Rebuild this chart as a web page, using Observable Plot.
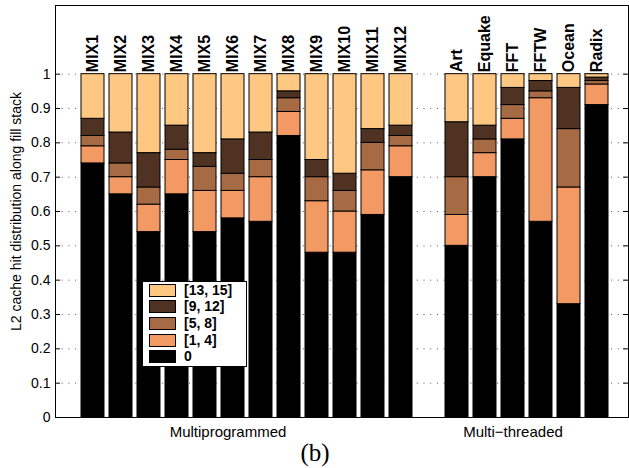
<!DOCTYPE html>
<html><head><meta charset="utf-8">
<script src="https://cdn.jsdelivr.net/npm/d3@7"></script>
<script src="https://cdn.jsdelivr.net/npm/@observablehq/plot@0.6"></script>
<style>
body{margin:0;background:#fff;}
#wrap{position:relative;width:629px;height:468px;font-family:"Liberation Sans",Arial,Helvetica,sans-serif;}
#legend{position:absolute;left:141.5px;top:280.5px;width:103px;height:84px;border:1px solid #000;background:#fff;box-sizing:content-box;}
.sw{position:absolute;left:6.5px;width:25px;height:11px;border:1px solid #000;}
.lb{position:absolute;left:41.5px;font-weight:bold;font-size:14px;line-height:14px;color:#000;white-space:nowrap;}
</style>
</head><body>
<div id="wrap"></div>
<script>
const names = ["MIX1","MIX2","MIX3","MIX4","MIX5","MIX6","MIX7","MIX8","MIX9","MIX10","MIX11","MIX12","Art","Equake","FFT","FFTW","Ocean","Radix"];
const gapName = " ";
const categories = ["0","[1, 4]","[5, 8]","[9, 12]","[13, 15]"];
const colors = ["#000000","#F39A64","#A66A45","#503223","#FFC882"];
const hit0     = [0.74,0.65,0.54,0.65,0.54,0.58,0.57,0.82,0.48,0.48,0.59,0.70, 0.50,0.70,0.81,0.57,0.33,0.91];
const hit1_4   = [0.05,0.05,0.08,0.10,0.12,0.08,0.13,0.07,0.15,0.12,0.13,0.09, 0.09,0.07,0.06,0.36,0.34,0.06];
const hit5_8   = [0.03,0.04,0.05,0.03,0.07,0.05,0.05,0.04,0.07,0.06,0.08,0.03, 0.11,0.04,0.04,0.02,0.17,0.01];
const hit9_12  = [0.05,0.09,0.10,0.07,0.04,0.10,0.08,0.02,0.05,0.05,0.04,0.03, 0.16,0.04,0.05,0.03,0.12,0.01];
const hit13_15 = [0.13,0.17,0.23,0.15,0.23,0.19,0.17,0.05,0.25,0.29,0.16,0.15, 0.14,0.15,0.04,0.02,0.04,0.01];
const yTicks = [0,0.1,0.2,0.3,0.4,0.5,0.6,0.7,0.8,0.9,1];
const groupLabels = [{at:"MIX6", text:"Multiprogrammed"},{at:"FFT", text:"Multi\u2212threaded"}];
const yLabel = "L2 cache hit distribution along fill stack";
const figLabel = "(b)";

const series = [hit0, hit1_4, hit5_8, hit9_12, hit13_15];
const data = [];
names.forEach((n, i) => series.forEach((s, k) => data.push({name: n, cat: categories[k], value: s[i]})));
const totals = names.map((n, i) => ({name: n, total: d3.sum(series, s => s[i])}));
const xDomain = [...names.slice(0, 12), gapName, ...names.slice(12)];

const W = 629, H = 468, mL = 55, mR = 1, mT = 5, mB = 51;
const frameW = W - mL - mR;

const plot = Plot.plot({
  width: W, height: H,
  marginLeft: mL, marginRight: mR, marginTop: mT, marginBottom: mB,
  style: {fontFamily: '"Liberation Sans", Arial, Helvetica, sans-serif', fontSize: "14px", color: "#000", background: "#fff"},
  x: {type: "band", domain: xDomain, paddingInner: 0.19, paddingOuter: 0.545, align: 0.553, axis: null},
  y: {domain: [0, 1.2], axis: null},
  color: {domain: categories, range: colors},
  marks: [
    Plot.gridY(yTicks.slice(1), {stroke: "#555", strokeOpacity: 1, strokeDasharray: "1,5.7"}),
    Plot.barY(data, {x: "name", y: "value", fill: "cat", order: categories, stroke: "#000", strokeWidth: 1, inset: 0}),
    Plot.tickY(yTicks, {y: d => d, stroke: "#000", insetRight: frameW - 5}),
    Plot.tickY(yTicks, {y: d => d, stroke: "#000", insetLeft: frameW - 5}),
    Plot.axisY(yTicks, {tickSize: 0, tickPadding: 5, tickFormat: d => String(d), fontSize: 14, label: null}),
    Plot.text(totals, {x: "name", y: "total", text: "name", rotate: -90, textAnchor: "start", lineAnchor: "middle", dy: -2, fontWeight: "bold", fontSize: 16}),
    Plot.text([yLabel], {text: d => d, frameAnchor: "left", rotate: -90, textAnchor: "middle", lineAnchor: "bottom", dx: -35, fontSize: 14}),
    Plot.text(groupLabels.slice(0, 1), {x: "at", text: "text", frameAnchor: "bottom", dy: 19, dx: -5, fontSize: 15}),
    Plot.text(groupLabels.slice(1), {x: "at", text: "text", frameAnchor: "bottom", dy: 19, fontSize: 15}),
    Plot.text([figLabel], {text: d => d, frameAnchor: "bottom", dx: -27, dy: 43, fontSize: 25, fontFamily: '"Liberation Serif", "DejaVu Serif", serif'}),
    Plot.frame({stroke: "#000"})
  ]
});
const wrap = document.getElementById("wrap");
wrap.appendChild(plot);

const legend = document.createElement("div");
legend.id = "legend";
const rowCenters = [8.5, 25.2, 41.8, 58.5, 75.2];
categories.slice().reverse().forEach((c, i) => {
  const k = categories.indexOf(c);
  const sw = document.createElement("div");
  sw.className = "sw";
  sw.style.top = (rowCenters[i] - 6.5) + "px";
  sw.style.background = colors[k];
  legend.appendChild(sw);
  const lb = document.createElement("div");
  lb.className = "lb";
  lb.style.top = (rowCenters[i] - 7.5) + "px";
  lb.textContent = c;
  legend.appendChild(lb);
});
wrap.appendChild(legend);
</script>
</body></html>
